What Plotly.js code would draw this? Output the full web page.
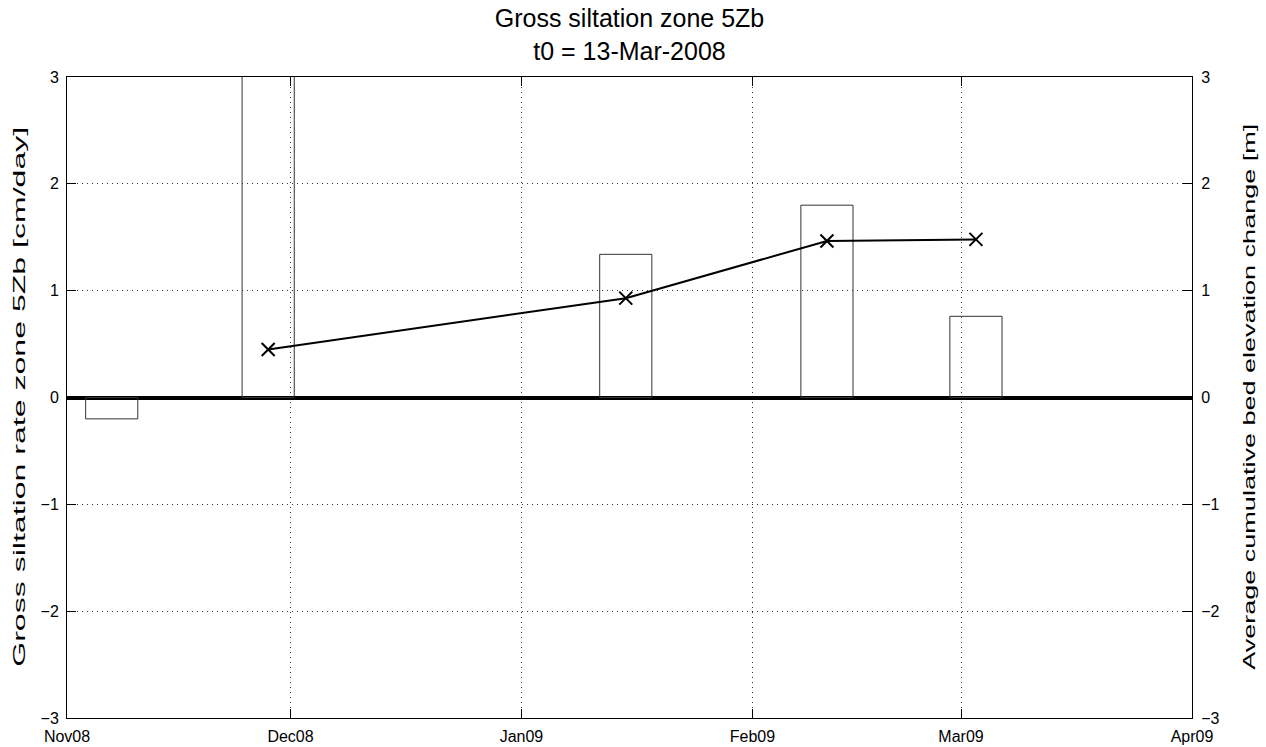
<!DOCTYPE html>
<html>
<head>
<meta charset="utf-8">
<script src="https://cdn.plot.ly/plotly-3.0.1.min.js"></script>
<style>html,body{margin:0;padding:0;background:#fff;}#chart{width:1266px;height:747px;}</style>
</head>
<body>
<div id="chart"></div>
<script>
// Bar data: gross siltation rate [cm/day]
var barDates = ['2008-11-07', '2008-11-28', '2009-01-15', '2009-02-11', '2009-03-03'];
var barRates = [-0.20, 5.0, 1.34, 1.80, 0.76];
// Line data: average cumulative bed elevation change [m]
var lineDates = ['2008-11-28', '2009-01-15', '2009-02-11', '2009-03-03'];
var lineValues = [0.45, 0.93, 1.465, 1.48];
var yTicks = [-3, -2, -1, 0, 1, 2, 3];
var xTicks = ['2008-11-01', '2008-12-01', '2009-01-01', '2009-02-01', '2009-03-01', '2009-04-01'];
var xTickText = ['Nov08', 'Dec08', 'Jan09', 'Feb09', 'Mar09', 'Apr09'];
var titleLines = ['Gross siltation zone 5Zb', 't0 = 13-Mar-2008'];
var leftTitle = 'Gross siltation rate zone 5Zb [cm/day]';
var rightTitle = 'Average cumulative bed elevation change [m]';

var DAY = 86400000;
var FAM = 'Liberation Sans, Arial, sans-serif';
var traces = [
  {
    type: 'bar', x: barDates, y: barRates, width: 7 * DAY,
    marker: {color: 'rgba(0,0,0,0)', line: {color: '#333', width: 1}},
    hoverinfo: 'x+y', showlegend: false
  },
  {
    type: 'scatter', mode: 'lines+markers', x: lineDates, y: lineValues, yaxis: 'y2',
    line: {color: '#000', width: 2},
    marker: {symbol: 'x-thin', size: 13, color: '#000', line: {color: '#000', width: 2}},
    showlegend: false
  }
];

var tf = {size: 16, family: FAM, color: '#000'};
var layout = {
  width: 1266, height: 747,
  margin: {l: 67, r: 74, t: 77, b: 29, pad: 0},
  paper_bgcolor: '#fff', plot_bgcolor: '#fff',
  font: {family: FAM, color: '#000', size: 16},
  title: {
    text: titleLines.join('<br>'),
    font: {family: FAM, size: 25, color: '#000'},
    x: 0.5, xref: 'paper', xanchor: 'center',
    yref: 'paper', y: 1, yanchor: 'bottom', pad: {b: 50}
  },
  bargap: 0,
  xaxis: {
    type: 'date', range: ['2008-11-01', '2009-04-01'],
    tickvals: xTicks, ticktext: xTickText,
    ticks: 'inside', ticklen: 9, tickcolor: '#000', tickwidth: 1,
    showgrid: true, gridcolor: '#333', griddash: '1px,4px', gridwidth: 1,
    showline: true, linecolor: '#000', linewidth: 1, mirror: 'ticks',
    zeroline: false, tickfont: tf, ticklabelstandoff: 4
  },
  yaxis: {
    range: [-3, 3], tickvals: yTicks,
    ticks: 'inside', ticklen: 9, tickcolor: '#000', tickwidth: 1,
    showgrid: true, gridcolor: '#333', griddash: '1px,4px', gridwidth: 1,
    showline: true, linecolor: '#000', linewidth: 1, mirror: true,
    zeroline: true, zerolinecolor: '#000', zerolinewidth: 4,
    tickfont: tf, ticklabelstandoff: 4,
    automargin: false
  },
  yaxis2: {
    range: [-3, 3], tickvals: yTicks, overlaying: 'y', side: 'right',
    ticks: 'inside', ticklen: 9, tickcolor: '#000', tickwidth: 1,
    showgrid: false, zeroline: false, showline: true, linecolor: '#000', linewidth: 1,
    tickfont: tf, ticklabelstandoff: 5,
    automargin: false
  },
  annotations: [
    {text: leftTitle, xref: 'paper', yref: 'paper', x: 0, y: 0.5, xshift: -48,
     xanchor: 'center', yanchor: 'middle', textangle: -90, showarrow: false,
     font: {size: 16, family: FAM, color: '#000'}},
    {text: rightTitle, xref: 'paper', yref: 'paper', x: 1, y: 0.5, xshift: 57,
     xanchor: 'center', yanchor: 'middle', textangle: -90, showarrow: false,
     font: {size: 16, family: FAM, color: '#000'}}
  ]
};

Plotly.newPlot('chart', traces, layout, {displayModeBar: false, staticPlot: true}).then(function (gd) {
  // stretch the vertical axis titles along their length, as in the reference
  var lens = [540, 546];
  var nodes = gd.querySelectorAll('.annotation-text');
  for (var i = 0; i < nodes.length && i < lens.length; i++) {
    nodes[i].setAttribute('textLength', lens[i]);
    nodes[i].setAttribute('lengthAdjust', 'spacingAndGlyphs');
  }
});
</script>
</body>
</html>
